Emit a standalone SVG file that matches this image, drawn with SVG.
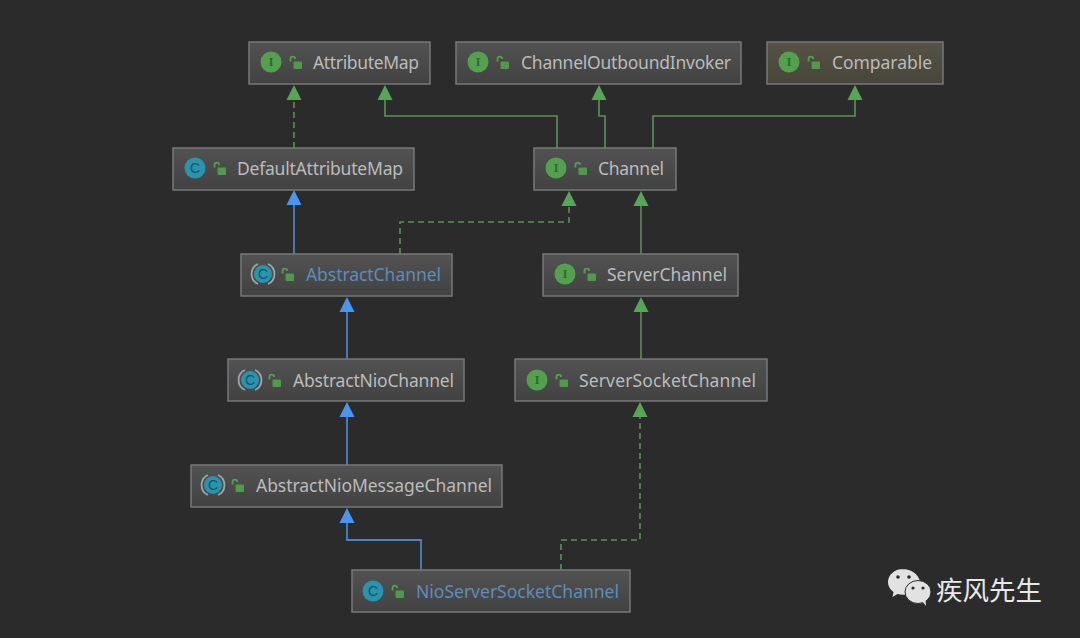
<svg xmlns="http://www.w3.org/2000/svg" width="1080" height="638" viewBox="0 0 1080 638">
<style>
.box{stroke:#77787a;stroke-width:1.5}
.lb{font:17.5px "Noto Sans","DejaVu Sans",sans-serif;fill:#bbbbbb}
.blue{fill:#5f8cb8}
.g{fill:none;stroke:#5f8f5c;stroke-width:1.6}
.gd{fill:none;stroke:#5f8f5c;stroke-width:1.6;stroke-dasharray:6 4}
.b{fill:none;stroke:#4b83c4;stroke-width:1.8}
.ag{fill:#57a556}
.ab{fill:#4a96ee}
.ii{fill:#53a04f}
.ic{fill:#2a93ad}
.gl{font:bold 12px "Liberation Serif",serif;fill:#2c6a2c;text-anchor:middle}
.gc{font:14px "Liberation Sans",sans-serif;fill:#14566b;text-anchor:middle}
.lk{fill:none;stroke:#53a04f;stroke-width:1.8}
.lf{fill:#4f9a4c}
.ring{fill:none;stroke:#9aa6a8;stroke-width:1.8}
</style>
<defs>
<linearGradient id="bg" x1="0" y1="0" x2="0" y2="1"><stop offset="0" stop-color="#525252"/><stop offset="1" stop-color="#424242"/></linearGradient>
<linearGradient id="bgo" x1="0" y1="0" x2="0" y2="1"><stop offset="0" stop-color="#565246"/><stop offset="1" stop-color="#48453a"/></linearGradient>
<g id="lock"><path class="lk" d="M-5.500 -0.500v-2.500a2.300 2.300 0 0 1 4.600 0"/><rect class="lf" x="-2.500" y="-0.500" width="8.500" height="7.500" rx="1"/></g>
<g id="I"><circle r="10.500" class="ii"/><text y="4" class="gl">I</text></g>
<g id="C"><circle r="10.500" class="ic"/><text y="5" class="gc">C</text></g>
<g id="A"><circle r="9" class="ic"/><path class="ring" d="M-5 -10A11 11 0 0 0 -5 10M5 -10A11 11 0 0 1 5 10"/><text y="5" class="gc">C</text></g>
<path id="tg" class="ag" d="M0 0L7.500 15H-7.500Z"/>
<path id="tb" class="ab" d="M0 0L7.500 15H-7.500Z"/>
</defs>
<rect width="1080" height="638" fill="#2b2b2b"/>

<g id="connectors">
<path class="gd" d="M294 148V99"/><use href="#tg" x="294" y="85"/>
<path class="g" d="M385 99V116H557V148"/><use href="#tg" x="385" y="85"/>
<path class="g" d="M599 99V116H605V148"/><use href="#tg" x="599" y="85"/>
<path class="g" d="M653 148V116H855V99"/><use href="#tg" x="855" y="85"/>
<path class="b" d="M294 254V205"/><use href="#tb" x="294" y="190"/>
<path class="gd" d="M400 254V222H569V205"/><use href="#tg" x="569" y="191"/>
<path class="g" d="M641 254V205"/><use href="#tg" x="641" y="191"/>
<path class="b" d="M347 359V311"/><use href="#tb" x="347" y="297"/>
<path class="g" d="M641 359V311"/><use href="#tg" x="641" y="297"/>
<path class="b" d="M347 465V417"/><use href="#tb" x="347" y="402"/>
<path class="gd" d="M561 570V540H640V417"/><use href="#tg" x="640" y="402"/>
<path class="b" d="M347 522V540H421V570"/><use href="#tb" x="347" y="508"/>
</g>

<g id="n-attributemap"><rect class="box" x="249" y="42" width="181" height="42" fill="url(#bg)"/><use href="#I" x="271" y="62"/><use href="#lock" x="296" y="62"/><text class="lb" x="313" y="68.500" textLength="106">AttributeMap</text></g>
<g id="n-outbound"><rect class="box" x="456" y="42" width="285" height="42" fill="url(#bg)"/><use href="#I" x="478" y="62"/><use href="#lock" x="503" y="62"/><text class="lb" x="521" y="68.500" textLength="210">ChannelOutboundInvoker</text></g>
<g id="n-comparable"><rect class="box" x="767" y="42" width="176" height="42" fill="url(#bgo)"/><use href="#I" x="789" y="62"/><use href="#lock" x="814" y="62"/><text class="lb" x="832" y="68.500" textLength="100">Comparable</text></g>
<g id="n-defaultattributemap"><rect class="box" x="173" y="148" width="241" height="42" fill="url(#bg)"/><use href="#C" x="195" y="168"/><use href="#lock" x="220" y="168"/><text class="lb" x="237" y="174.500" textLength="166">DefaultAttributeMap</text></g>
<g id="n-channel"><rect class="box" x="534" y="148" width="142" height="42" fill="url(#bg)"/><use href="#I" x="556" y="168"/><use href="#lock" x="581" y="168"/><text class="lb" x="598" y="174.500" textLength="66">Channel</text></g>
<g id="n-abstractchannel"><rect class="box" x="241" y="254" width="211" height="42" fill="url(#bg)"/><use href="#A" x="263" y="274"/><use href="#lock" x="288" y="274"/><text class="lb blue" x="306" y="280.500" textLength="135">AbstractChannel</text></g>
<g id="n-serverchannel"><rect class="box" x="543" y="254" width="195" height="42" fill="url(#bg)"/><use href="#I" x="565" y="274"/><use href="#lock" x="590" y="274"/><text class="lb" x="607" y="280.500" textLength="120">ServerChannel</text></g>
<g id="n-abstractniochannel"><rect class="box" x="228" y="359" width="236" height="42" fill="url(#bg)"/><use href="#A" x="250" y="380"/><use href="#lock" x="275" y="380"/><text class="lb" x="293" y="386.500" textLength="161">AbstractNioChannel</text></g>
<g id="n-serversocketchannel"><rect class="box" x="515" y="359" width="252" height="42" fill="url(#bg)"/><use href="#I" x="537" y="380"/><use href="#lock" x="562" y="380"/><text class="lb" x="579" y="386.500" textLength="177">ServerSocketChannel</text></g>
<g id="n-abstractniomessagechannel"><rect class="box" x="191" y="465" width="311" height="42" fill="url(#bg)"/><use href="#A" x="213" y="485"/><use href="#lock" x="238" y="485"/><text class="lb" x="256" y="491.500" textLength="236">AbstractNioMessageChannel</text></g>
<g id="n-nioserversocketchannel"><rect class="box" x="352" y="570" width="278" height="42" fill="url(#bg)"/><use href="#C" x="373" y="591"/><use href="#lock" x="398" y="591"/><text class="lb blue" x="416" y="597.500" textLength="203">NioServerSocketChannel</text></g>

<g id="watermark">
<path d="M903 569c-8.500 0-15 6-15 13 0 4 2 7.500 5.500 10l-1 5 5-3c2 .5 3.500 .8 5.500 .8h2c1-7 7-13 15-13.500-1.500-7-9-12.300-17.500-12.300z" fill="#e2e2e2"/>
<ellipse cx="918" cy="592" rx="13" ry="11.500" fill="#e2e2e2" stroke="#2b2b2b" stroke-width="1"/>
<path d="M922 601l4 5-.5-7z" fill="#e2e2e2"/>
<circle cx="898" cy="577" r="1.800" fill="#2b2b2b"/><circle cx="909" cy="577" r="1.800" fill="#2b2b2b"/>
<circle cx="913" cy="588" r="1.600" fill="#2b2b2b"/><circle cx="923" cy="588" r="1.600" fill="#2b2b2b"/>
<text x="936" y="600" font-size="26.500" font-family="'Noto Sans CJK SC',sans-serif" fill="#e8e8e8">疾风先生</text>
</g>
</svg>
